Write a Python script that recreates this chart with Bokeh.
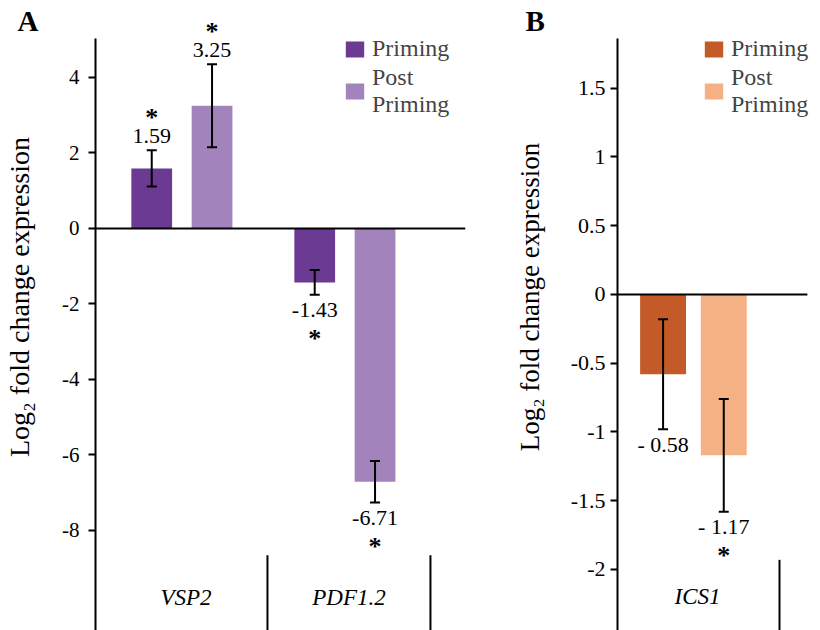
import math
from bokeh.plotting import figure
from bokeh.layouts import row
from bokeh.models import (ColumnDataSource, FixedTicker, Whisker, TeeHead,
                          Legend, LegendItem, Range1d)
from bokeh.core.properties import value
from bokeh.embed import file_html
from bokeh.resources import INLINE

FONT = "Liberation Serif"

# ---------------- Panel A data ----------------
genes_a = ["VSP2", "PDF1.2"]
priming_a = [1.59, -1.43]
post_a = [3.25, -6.71]
priming_err_a = [0.48, 0.33]
post_err_a = [1.10, 0.55]
priming_sig_a = [True, True]
post_sig_a = [True, True]
priming_lab_a = ["1.59", "-1.43"]
post_lab_a = ["3.25", "-6.71"]
yticks_a = [4, 2, 0, -2, -4, -6, -8]
ytick_labels_a = ["4", "2", "0", "-2", "-4", "-6", "-8"]

# ---------------- Panel B data ----------------
genes_b = ["ICS1"]
priming_b = [-0.58]
post_b = [-1.17]
priming_err_b = [0.40]
post_err_b = [0.41]
priming_sig_b = [False]
post_sig_b = [True]
priming_lab_b = ["- 0.58"]
post_lab_b = ["- 1.17"]
yticks_b = [1.5, 1, 0.5, 0, -0.5, -1, -1.5, -2]
ytick_labels_b = ["1.5", "1", "0.5", "0", "-0.5", "-1", "-1.5", "-2"]

legend_labels = ["Priming", "Post\nPriming"]
colors_a = ["#6B3A93", "#A283BC"]
colors_b = ["#C45A28", "#F4B183"]

YLABEL = "Log\u2082 fold change expression"
H = 630


def add_bars(p, vals, errs, sigs, labels, off, color, bw):
    xs = [i + off for i in range(len(vals))]
    ends = [v + e if v >= 0 else v - e for v, e in zip(vals, errs)]
    src = ColumnDataSource(dict(
        x=xs, top=vals,
        upper=[v + e for v, e in zip(vals, errs)],
        lower=[v - e for v, e in zip(vals, errs)],
        end=ends, lab=labels,
        lab_off=[-14 if v >= 0 else 15 for v in vals],
        star=["*" if s else "" for s in sigs],
        star_off=[-33 if v >= 0 else 44 for v in vals],
    ))
    r = p.vbar(x="x", top="top", bottom=0, width=bw, fill_color=color,
               line_color=None, source=src)
    p.add_layout(Whisker(base="x", upper="upper", lower="lower", source=src,
                         dimension="height", line_width=2, line_color="black",
                         level="overlay",
                         upper_head=TeeHead(size=10, line_width=2, line_color="black"),
                         lower_head=TeeHead(size=10, line_width=2, line_color="black")))
    p.text(x="x", y="end", text="lab", y_offset="lab_off", source=src,
           text_align="center", text_baseline="middle", text_font=value(FONT),
           text_font_size="22px", text_color="black")
    p.text(x="x", y="end", text="star", y_offset="star_off", source=src,
           text_align="center", text_baseline="middle", text_font=value(FONT),
           text_font_size="26px", text_font_style="bold", text_color="black")
    return r


def make_strip(width, letter, letter_x, label_x, label_size):
    """Left strip holding the panel letter and the rotated y-axis title."""
    s = figure(width=width, height=H, x_range=Range1d(0, width), y_range=Range1d(0, H),
               output_backend="svg", toolbar_location=None, x_axis_location=None,
               y_axis_location=None, title=None, min_border=0)
    s.outline_line_color = None
    s.grid.visible = False
    s.text(x=[letter_x], y=[H - 20], text=[letter], text_align="left",
           text_baseline="alphabetic", text_font=value(FONT), text_font_size="29px",
           text_font_style="bold", text_color="black")
    s.text(x=[label_x], y=[H - 296.5], text=[YLABEL], angle=math.pi / 2,
           text_align="center", text_baseline="alphabetic", text_font=value(FONT),
           text_font_size=label_size, text_color="black")
    return s


def make_panel(genes, pri, post, pri_err, post_err, pri_sig, post_sig,
               pri_lab, post_lab, colors, yr, ax_top, xr, zero_end, ticks,
               tick_labels, width, b_left, b_right, bw, legend_xy, sep_top,
               cat_y, tick_size, tick_standoff):
    p = figure(width=width, height=H, x_range=Range1d(*xr), y_range=Range1d(*yr),
               output_backend="svg", toolbar_location=None, x_axis_location=None,
               title=None, min_border_left=b_left, min_border_right=b_right,
               min_border_top=0, min_border_bottom=0)
    p.outline_line_color = None
    p.xgrid.visible = False
    p.ygrid.visible = False

    ax = p.yaxis[0]
    ax.bounds = (yr[0], ax_top)
    ax.ticker = FixedTicker(ticks=ticks)
    ax.major_label_overrides = {t: l for t, l in zip(ticks, tick_labels)}
    ax.axis_line_width = 2
    ax.axis_line_color = "black"
    ax.major_tick_line_width = 2
    ax.major_tick_line_color = "black"
    ax.major_tick_out = 7
    ax.major_tick_in = 0
    ax.minor_tick_out = 0
    ax.minor_tick_in = 0
    ax.major_label_text_font = FONT
    ax.major_label_text_font_size = tick_size
    ax.major_label_text_color = "black"
    ax.major_label_standoff = tick_standoff

    r1 = add_bars(p, pri, pri_err, pri_sig, pri_lab, -0.21, colors[0], bw)
    r2 = add_bars(p, post, post_err, post_sig, post_lab, 0.16, colors[1], bw)

    # zero line
    p.segment(x0=[xr[0]], x1=[zero_end], y0=[0], y1=[0], line_color="black",
              line_width=2)

    n = len(genes)
    sep_x = [i + 0.5 for i in range(n)]
    p.segment(x0=sep_x, x1=sep_x, y0=[yr[0]] * n, y1=[sep_top] * n,
              line_color="black", line_width=2)
    p.text(x=list(range(n)), y=[cat_y] * n, text=genes, text_align="center",
           text_baseline="middle", text_font=value(FONT), text_font_size="23px",
           text_font_style="italic", text_color="black")

    legend = Legend(items=[LegendItem(label=legend_labels[0], renderers=[r1]),
                           LegendItem(label=legend_labels[1], renderers=[r2])],
                    location=legend_xy, glyph_width=23, glyph_height=20,
                    label_text_font=FONT, label_text_font_size="24px",
                    label_text_line_height=0.8, label_standoff=6, spacing=2,
                    padding=0, margin=0, border_line_color=None,
                    background_fill_alpha=0, label_height=20)
    p.add_layout(legend)
    return p


stripA = make_strip(45, "A", 17, 19, "28px")
pA = make_panel(genes_a, priming_a, post_a, priming_err_a, post_err_a,
                priming_sig_a, post_sig_a, priming_lab_a, post_lab_a, colors_a,
                (-10.65, 6.037), 5.03, (-0.555, 1.715), 1.715, yticks_a,
                ytick_labels_a, 445, 50, 25, 0.25, (248, 512), -8.66, -9.77,
                "21px", 9)
stripB = make_strip(70, "B", 35, 39, "27px")
pB = make_panel(genes_b, priming_b, post_b, priming_err_b, post_err_b,
                priming_sig_b, post_sig_b, priming_lab_b, post_lab_b, colors_b,
                (-2.444, 2.138), 1.862, (-0.488, 0.75), 0.67, yticks_b,
                ytick_labels_b, 260, 57, 0, 0.28, (85, 512), -1.93, -2.20,
                "22px", 5)

layout = row(stripA, pA, stripB, pB)
open("out.html", "w").write(file_html(layout, INLINE))
